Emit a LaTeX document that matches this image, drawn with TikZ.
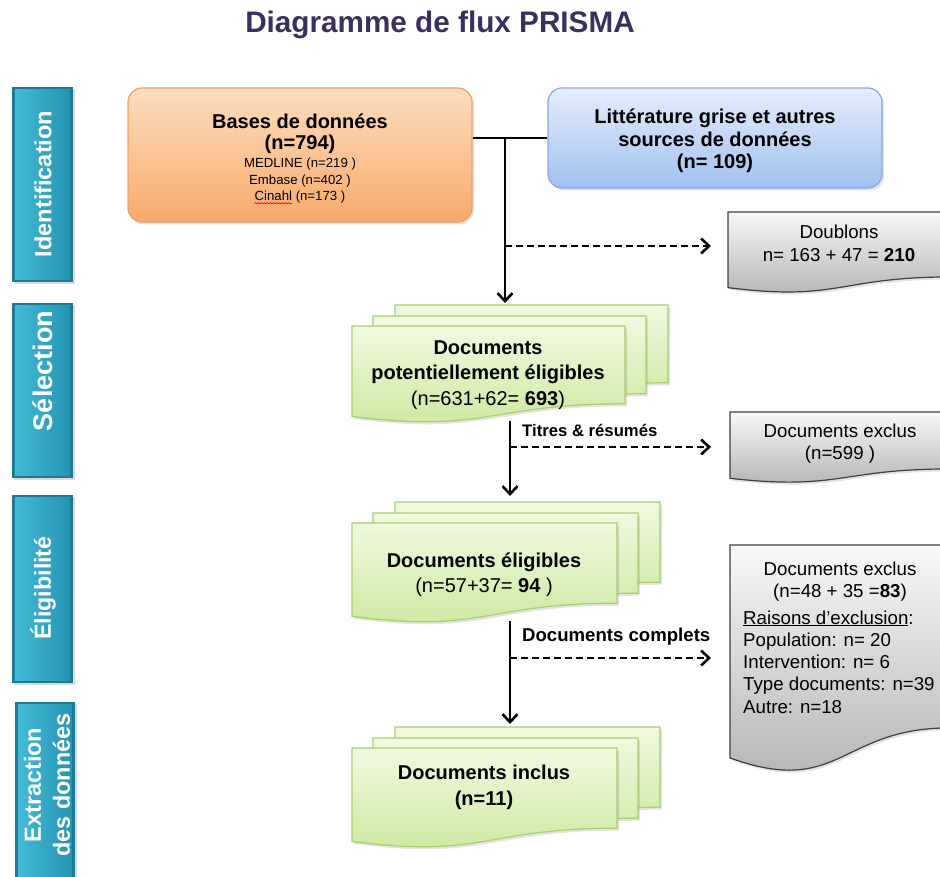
\documentclass[tikz,border=0pt]{standalone}
\usepackage{fontspec}
\setmainfont{Liberation Sans}
\usetikzlibrary{arrows.meta,shadows,decorations.pathmorphing}

\definecolor{titlec}{HTML}{3B2F5E}
\definecolor{orgtop}{HTML}{FDDDBE}
\definecolor{orgbot}{HTML}{F7AA6B}
\definecolor{orgdraw}{HTML}{EFA062}
\definecolor{blutop}{HTML}{E3EDFC}
\definecolor{blubot}{HTML}{A2C1EF}
\definecolor{bludraw}{HTML}{86A9DD}
\definecolor{grntop}{HTML}{F0F9E0}
\definecolor{grnbot}{HTML}{C9E89B}
\definecolor{grndraw}{HTML}{A8D070}
\definecolor{grytop}{HTML}{F8F8F8}
\definecolor{grybot}{HTML}{B0B0B0}
\definecolor{grydraw}{HTML}{3F3F3F}
\definecolor{tealdark}{HTML}{1C7A95}
\definecolor{teallight}{HTML}{42BAD6}
\definecolor{tealmid}{HTML}{2594B2}

\tikzset{
  softshadow/.style={drop shadow={opacity=0.22, shadow xshift=2pt, shadow yshift=-2.5pt}},
  greendoc/.style={top color=grntop, bottom color=grnbot, draw=grndraw, line width=1.2pt, softshadow},
  graydoc/.style={top color=grytop, bottom color=grybot, draw=grydraw, line width=1.2pt, softshadow},
  obox/.style={rounded corners=14pt, top color=orgtop, bottom color=orgbot, draw=orgdraw, line width=1.2pt, inner sep=0pt, softshadow},
  bbox/.style={rounded corners=14pt, top color=blutop, bottom color=blubot, draw=bludraw, line width=1.2pt, inner sep=0pt, softshadow},
  sbar/.style={fill=tealdark, draw=none, inner sep=0pt, drop shadow={opacity=0.3, shadow xshift=2pt, shadow yshift=-2pt}},
  sbface/.style={left color=teallight, right color=tealmid},
  sbtext/.style={text=white, rotate=90, inner sep=0pt, align=center},
  txt/.style={inner sep=0pt, anchor=base},
  txtl/.style={inner sep=0pt, anchor=base west},
  bigb/.style={font=\bfseries\fontsize{20}{24}\selectfont},
  bigr/.style={font=\fontsize{20}{24}\selectfont},
  small/.style={font=\fontsize{13.2}{16}\selectfont},
  mid/.style={font=\fontsize{18.7}{22}\selectfont},
  conn/.style={line width=2.6pt, draw=black},
  arr/.style={conn, -{Straight Barb[length=8pt,width=15pt]}},
  dasharr/.style={arr, dash pattern=on 7pt off 4pt},
}

\newcommand\docshape[5]{%
  \path[#5] (#1,#2) -- (#1+#3,#2) -- (#1+#3,#2+0.802*#4)
    .. controls (#1+0.5*#3,#2+0.802*#4) and (#1+0.5*#3,#2+1.108*#4) .. (#1,#2+0.934*#4) -- cycle;}
\newcommand\docstack[4]{%
  \docshape{#1+43}{#2-21}{#3}{#4}{greendoc}%
  \docshape{#1+21}{#2-10}{#3}{#4}{greendoc}%
  \docshape{#1}{#2}{#3}{#4}{greendoc}}
\newcommand\sidebar[5]{%
  \node[sbar, minimum width=#4pt, minimum height=#5pt] (#1) at (#2,#3) {};
  \path[sbface] ([shift={(3pt,-3pt)}]#1.north west) rectangle ([shift={(-3pt,3pt)}]#1.south east);}

\begin{document}
\begin{tikzpicture}[x=1pt, y=-1pt]
\useasboundingbox (0,0) rectangle (940,877);
\clip (0,0) rectangle (940,877);

% title
\node[txt, font=\bfseries\fontsize{29.7}{34}\selectfont, text=titlec] (title) at (440,33) {Diagramme de flux PRISMA};

% side bars
\sidebar{sb1}{42.5}{184.5}{61}{195}
\sidebar{sb2}{42.5}{390.5}{61}{175}
\sidebar{sb3}{42.5}{589}{61}{188}
\sidebar{sb4}{45}{798.5}{60}{193}
\node[sbtext, font=\bfseries\fontsize{23.5}{28}\selectfont] (t1) at (43,184) {Identification};
\node[sbtext, font=\bfseries\fontsize{27}{32}\selectfont] (t2) at (43,371) {Sélection};
\node[sbtext, font=\bfseries\fontsize{23.2}{28}\selectfont] (t3) at (43,588) {Éligibilité};
\node[sbtext, font=\bfseries\fontsize{23.4}{29}\selectfont] (t4) at (47,785) {Extraction\\des données};

% top boxes
\node[obox, minimum width=344pt, minimum height=134pt] (bases) at (300,155) {};
\node[bbox, minimum width=334pt, minimum height=100pt] (lit) at (715,138) {};

\node[txt, bigb] (b1) at (300,129) {Bases de données};
\node[txt, bigb] (b2) at (300,150) {(n=794)};
\node[txt, small] (b3) at (300,167.5) {MEDLINE (n=219 )};
\node[txt, small] (b4) at (300,184.5) {Embase (n=402 )};
\node[txt, small] (cin) at (300,200.5) {Cinahl (n=173 )};
\node[txtl, small] (cinw) at (cin.base west) {\phantom{Cinahl}};
\draw[red, line width=0.6pt, decorate, decoration={snake, amplitude=0.7pt, segment length=3pt}]
  ([yshift=-2.8pt]cinw.base west) -- ([yshift=-2.8pt]cinw.base east);

\node[txt, bigb] (l1) at (715,124) {Littérature grise et autres};
\node[txt, bigb] (l2) at (715,147) {sources de données};
\node[txt, bigb] (l3) at (715,169) {(n= 109)};

% gray documents
\docshape{728}{212}{222}{81}{graydoc}
\docshape{730}{412}{220}{71}{graydoc}
\docshape{730}{545}{220}{228}{graydoc}

\node[txt, mid] (d1) at (839,239) {Doublons};
\node[txt, mid] (d2) at (839,262) {n= 163 + 47 = \textbf{210}};

\node[txt, mid] (e1) at (840,437) {Documents exclus};
\node[txt, mid] (e2) at (840,459) {(n=599 )};

\node[txt, mid] (x1) at (840,575) {Documents exclus};
\node[txt, mid] (x2) at (840,597) {(n=48 + 35 =\textbf{83})};
\node[txtl, mid] (x3) at (743,624) {\underline{Raisons d’exclusion}:};
\node[txtl, mid] (x4) at (743,646.3) {Population: n= 20};
\node[txtl, mid] (x5) at (743,668.6) {Intervention: n= 6};
\node[txtl, mid] (x6) at (743,690.9) {Type documents: n=39};
\node[txtl, mid] (x7) at (743,713.2) {Autre: n=18};

% green stacks
\docstack{352}{326}{273}{97}
\docstack{352}{523}{265}{100}
\docstack{352}{748}{265}{100}

\node[txt, bigb] (g1) at (488,355) {Documents};
\node[txt, bigb] (g2) at (488,380) {potentiellement éligibles};
\node[txt, bigr] (g3) at (488,405) {(n=631+62= \textbf{693})};

\node[txt, bigb] (h1) at (484,567) {Documents éligibles};
\node[txt, bigr] (h2) at (484,592) {(n=57+37= \textbf{94} )};

\node[txt, bigb] (i1) at (484,779) {Documents inclus};
\node[txt, bigb] (i2) at (484,805) {(n=11)};

% labels
\node[txtl, font=\bfseries\fontsize{16.7}{20}\selectfont] (lab1) at (522,436) {Titres \& résumés};
\node[txtl, font=\bfseries\fontsize{18.6}{22}\selectfont] (lab2) at (522,641) {Documents complets};

% connector coordinates
\coordinate (j1) at (505,138);
\coordinate (s1top) at (505,303);
\coordinate (da1) at (505,246);
\coordinate (da1e) at (711,246);
\coordinate (s1bot) at (510,421);
\coordinate (s2top) at (510,496);
\coordinate (da2) at (510,447);
\coordinate (da2e) at (711,447);
\coordinate (s2bot) at (510,621);
\coordinate (s3top) at (510,724);
\coordinate (da3) at (510,658);
\coordinate (da3e) at (711,658);

\draw[conn] (lit.west) -- (lit.west -| bases.east);
\draw[arr] (j1) -- (s1top);
\draw[dasharr] (da1) -- (da1e);
\draw[arr] (s1bot) -- (s2top);
\draw[dasharr] (da2) -- (da2e);
\draw[arr] (s2bot) -- (s3top);
\draw[dasharr] (da3) -- (da3e);
\end{tikzpicture}
\end{document}
